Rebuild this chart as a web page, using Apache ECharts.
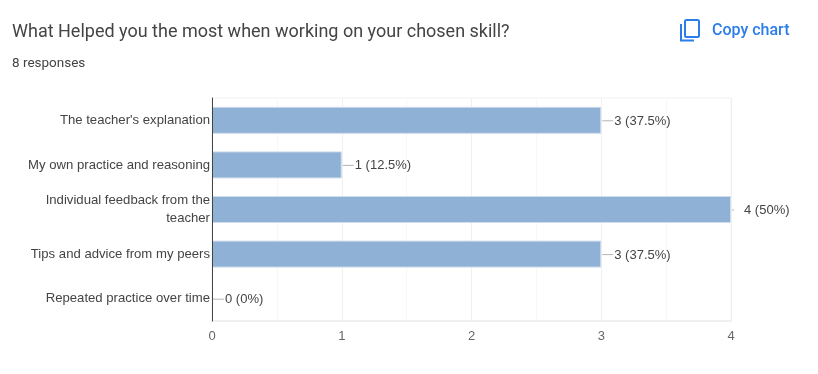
<!DOCTYPE html>
<html>
<head>
<meta charset="utf-8">
<style>html,body{margin:0;padding:0;background:#fff}#c{width:818px;height:374px}</style>
<script src="https://cdn.jsdelivr.net/npm/echarts@6/dist/echarts.min.js"></script>
</head>
<body>
<div id="c"></div>
<script>
const categories = ["The teacher's explanation", "My own practice and reasoning", "Individual feedback from the\nteacher", "Tips and advice from my peers", "Repeated practice over time"];
const counts = [3, 1, 4, 3, 0];
const percents = ["37.5%", "12.5%", "50%", "37.5%", "0%"];
const ticks = [0, 1, 2, 3, 4];
const FONT = 'Arial, "Liberation Sans", sans-serif';

const chart = echarts.init(document.getElementById('c'), null, {renderer: 'canvas'});
chart.setOption({
  animation: false,
  backgroundColor: '#fff',
  title: [
    {text: 'What Helped you the most when working on your chosen skill?', left: 12, top: 23, padding: 0,
     textStyle: {fontFamily: 'Roboto', fontSize: 18, fontWeight: 400, color: '#444', letterSpacing: 0.1}},
    {text: '8 responses', left: 12, top: 57, padding: 0,
     textStyle: {fontFamily: 'Roboto', fontSize: 13.5, fontWeight: 400, color: '#444'}},
    {text: 'Copy chart', left: 712, top: 23, padding: 0,
     textStyle: {fontFamily: 'Roboto', fontSize: 16, fontWeight: 500, color: '#2b7de9', letterSpacing: 1.1}}
  ],
  grid: {left: 212, right: 87, top: 98, bottom: 53, containLabel: false, show: true, borderColor: '#f2f2f2', borderWidth: 1},
  xAxis: {
    type: 'value', min: ticks[0], max: ticks[ticks.length - 1], interval: 1,
    axisLine: {show: true, lineStyle: {color: '#f0f0f0', width: 2}}, axisTick: {show: false},
    axisLabel: {color: '#666', fontFamily: FONT, fontSize: 13, margin: 9, formatter: v => String(v)},
    splitLine: {show: true, lineStyle: {color: '#f0f0f0', width: 1}},
    minorTick: {show: false, splitNumber: 2},
    minorSplitLine: {show: true, lineStyle: {color: '#f7f7f7', width: 1}}
  },
  yAxis: {
    type: 'category', data: categories, inverse: true, z: 10,
    axisLine: {show: true, onZero: false, lineStyle: {color: '#444', width: 1}},
    axisTick: {show: false},
    axisLabel: {color: '#444', fontFamily: FONT, fontSize: 13.15, margin: 2, lineHeight: 18, interval: 0}
  },
  series: [{
    type: 'custom',
    z: 1,
    encode: {x: 0, y: 1},
    data: counts.map((v, i) => [v, i]),
    renderItem: (params, api) => {
      const p = api.coord([api.value(0), api.value(1)]);
      const len = api.value(0) === ticks[ticks.length - 1] ? 2 : 11;
      return {type: 'line', shape: {x1: p[0] + 1, y1: p[1] + 0.5, x2: p[0] + len + 1, y2: p[1] + 0.5},
              style: {stroke: '#b5b5b5', lineWidth: 1}};
    }
  }, {
    type: 'bar',
    z: 2,
    data: counts.map((v, i) => ({
      value: v,
      label: {formatter: v + ' (' + percents[i] + ')'},
      itemStyle: v === 0 ? {borderWidth: 0, color: 'transparent'} : undefined
    })),
    barWidth: 27,
    itemStyle: {color: '#8fb1d6', borderColor: '#cfdcec', borderWidth: 1},
    label: {show: true, position: 'right', distance: 13, offset: [0, 1], color: '#444', fontFamily: FONT, fontSize: 13}
  }],
  graphic: [
    {type: 'rect', shape: {x: 685, y: 20, width: 14, height: 17, r: 1.5},
     style: {fill: 'none', stroke: '#2b7de9', lineWidth: 2}},
    {type: 'polyline', shape: {points: [[681, 24], [681, 40.5], [694, 40.5]]},
     style: {fill: 'none', stroke: '#2b7de9', lineWidth: 2}}
  ]
});
</script>
</body>
</html>
